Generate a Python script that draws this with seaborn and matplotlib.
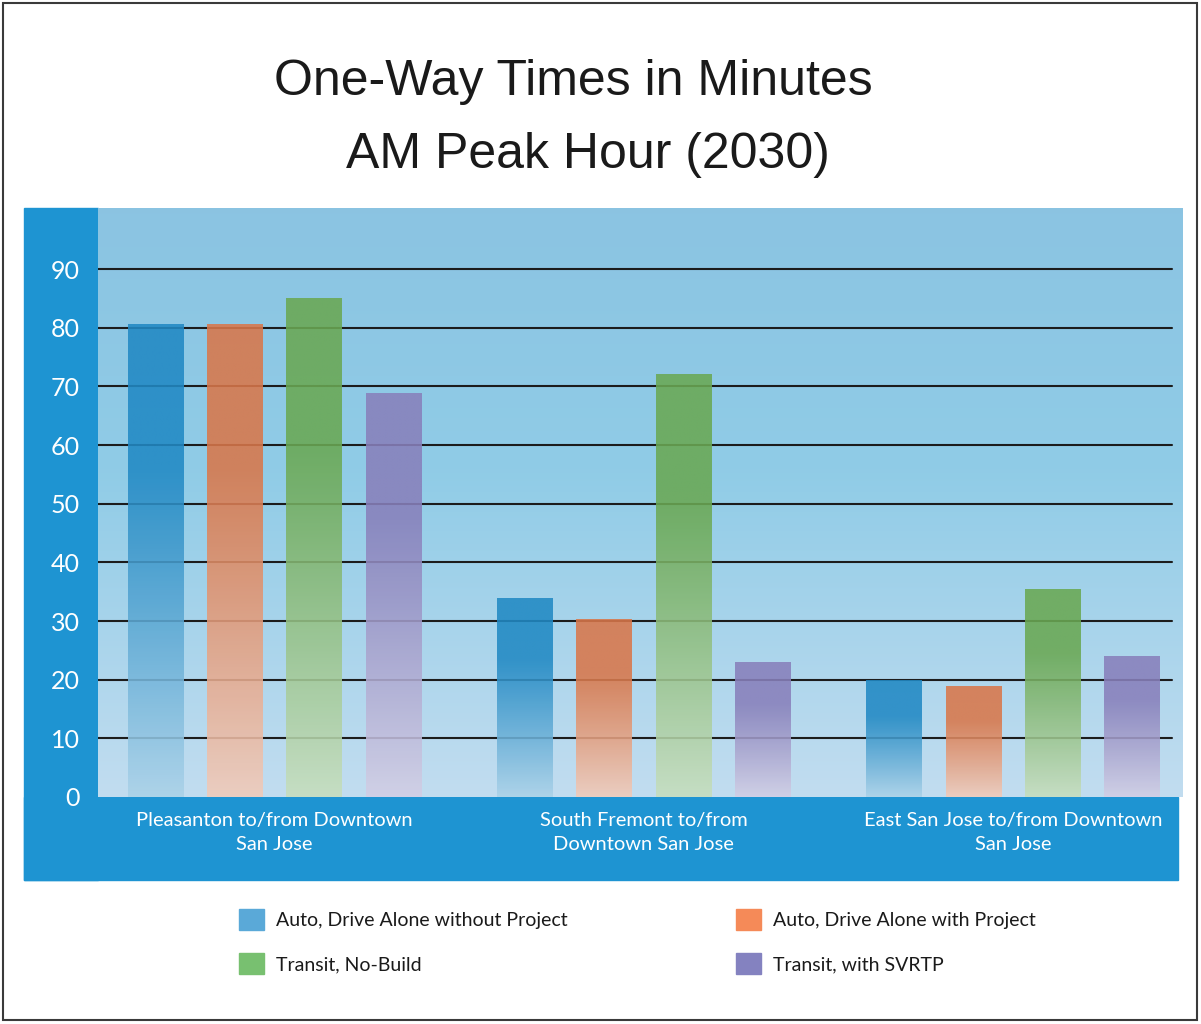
import numpy as np
import pandas as pd
import seaborn as sns
import matplotlib.pyplot as plt
from matplotlib.patches import Rectangle, Patch

# chart data (minutes)
routes = ["Pleasanton to/from Downtown\nSan Jose",
          "South Fremont to/from\nDowntown San Jose",
          "East San Jose to/from Downtown\nSan Jose"]
modes = ["Auto, Drive Alone without Project",
         "Auto, Drive Alone with Project",
         "Transit, No-Build",
         "Transit, with SVRTP"]
auto_no_project = [80.5, 33.8, 19.9]
auto_with_project = [80.5, 30.3, 18.8]
transit_no_build = [85.0, 72.0, 35.4]
transit_svrtp = [68.8, 23.0, 24.0]

bar_colors = ["#2189c4", "#d9774a", "#6aa853", "#8880bb"]
legend_colors = ["#5aa9d8", "#f58a58", "#78c070", "#8482c0"]

series = [auto_no_project, auto_with_project, transit_no_build, transit_svrtp]
rows = []
for i, r in enumerate(routes):
    for m, vals in zip(modes, series):
        rows.append((r, m, vals[i]))
df = pd.DataFrame(rows, columns=["route", "mode", "minutes"])

sns.set_style("white")
plt.rcParams["font.family"] = ["Lato", "DejaVu Sans"]

W, H = 1201, 1024
fig = plt.figure(figsize=(W / 100, H / 100), dpi=100)


def fx(px):
    return px / W


def fy(py):
    return 1 - py / H


panel_blue = "#1e94d2"
# left and bottom dark blue strips
fig.patches.append(Rectangle((fx(24), fy(880)), fx(98) - fx(24), fy(208) - fy(880),
                             transform=fig.transFigure, color=panel_blue, zorder=-1))
fig.patches.append(Rectangle((fx(24), fy(880)), fx(1178) - fx(24), fy(797) - fy(880),
                             transform=fig.transFigure, color=panel_blue, zorder=-1))
# outer frame
fig.patches.append(Rectangle((fx(3), fy(1020)), fx(1197) - fx(3), fy(3) - fy(1020),
                             transform=fig.transFigure, fill=False, edgecolor="#3a3a3a",
                             lw=1.5, zorder=-1))

ax = fig.add_axes([fx(98), fy(797), fx(1183) - fx(98), fy(208) - fy(797)])
ax.patch.set_visible(False)

# background gradient
top = np.array([0.545, 0.768, 0.886])
mid = np.array([0.565, 0.800, 0.905])
bot = np.array([0.760, 0.866, 0.941])
s = np.linspace(0, 1, 256)[:, None]
bg = np.where(s < 0.45, top + (mid - top) * (s / 0.45), mid + (bot - mid) * ((s - 0.45) / 0.55))
ax.imshow(bg[:, None, :], extent=[0, 1, 0, 1], transform=ax.transAxes,
          aspect="auto", zorder=0, interpolation="bilinear")

sns.barplot(df, x="route", y="minutes", hue="mode", palette=bar_colors,
            width=0.86, gap=0.3, saturation=1, legend=False, ax=ax, zorder=2)

# replace flat bars with vertical gradients
for p in list(ax.patches):
    h = p.get_height()
    if h <= 0:
        continue
    x0, w = p.get_x(), p.get_width()
    c = np.array(p.get_facecolor()[:3])
    ss = np.linspace(0, 1, 200)[:, None]
    f = 0.62 * np.clip((ss - 0.3) / 0.7, 0, 1) ** 1.1
    img = c * (1 - f) + f
    ax.imshow(img[:, None, :], extent=[x0, x0 + w, 0, h], aspect="auto",
              zorder=2, alpha=0.88, interpolation="bilinear")
    p.set_visible(False)

for v in range(10, 100, 10):
    ax.axhline(v, xmin=0, xmax=0.99, color="#1c1c1c", lw=1.5, zorder=1)

ax.set_xlim(-0.478, 2.46)
ax.set_ylim(0, 100.4)
ax.set_yticks(range(0, 100, 10))
ax.set_xlabel("")
ax.set_ylabel("")
for sp in ax.spines.values():
    sp.set_visible(False)
ax.tick_params(axis="y", length=0, pad=13, labelcolor="white", labelsize=18)
ax.tick_params(axis="x", length=0, pad=11, labelcolor="white", labelsize=14.5)
for lbl in ax.get_xticklabels():
    lbl.set_linespacing(1.5)

# titles
fig.text(fx(573), fy(82), "One-Way Times in Minutes", ha="center", va="center",
         fontsize=36, color="#1a1a1a", family="Liberation Sans")
fig.text(fx(588), fy(155), "AM Peak Hour (2030)", ha="center", va="center",
         fontsize=36, color="#1a1a1a", family="Liberation Sans")

# legend in two columns
handles = [Patch(color=c) for c in legend_colors]
for idx, xpos in [((0, 2), 229), ((1, 3), 726)]:
    fig.legend([handles[i] for i in idx], [modes[i] for i in idx],
               loc="upper left", bbox_to_anchor=(fx(xpos), fy(899)),
               frameon=False, borderpad=0, fontsize=14, handlelength=1.3,
               handleheight=1.3, handletextpad=0.6, labelspacing=1.2,
               labelcolor="#1a1a1a")

fig.savefig("out.png", dpi=100)
